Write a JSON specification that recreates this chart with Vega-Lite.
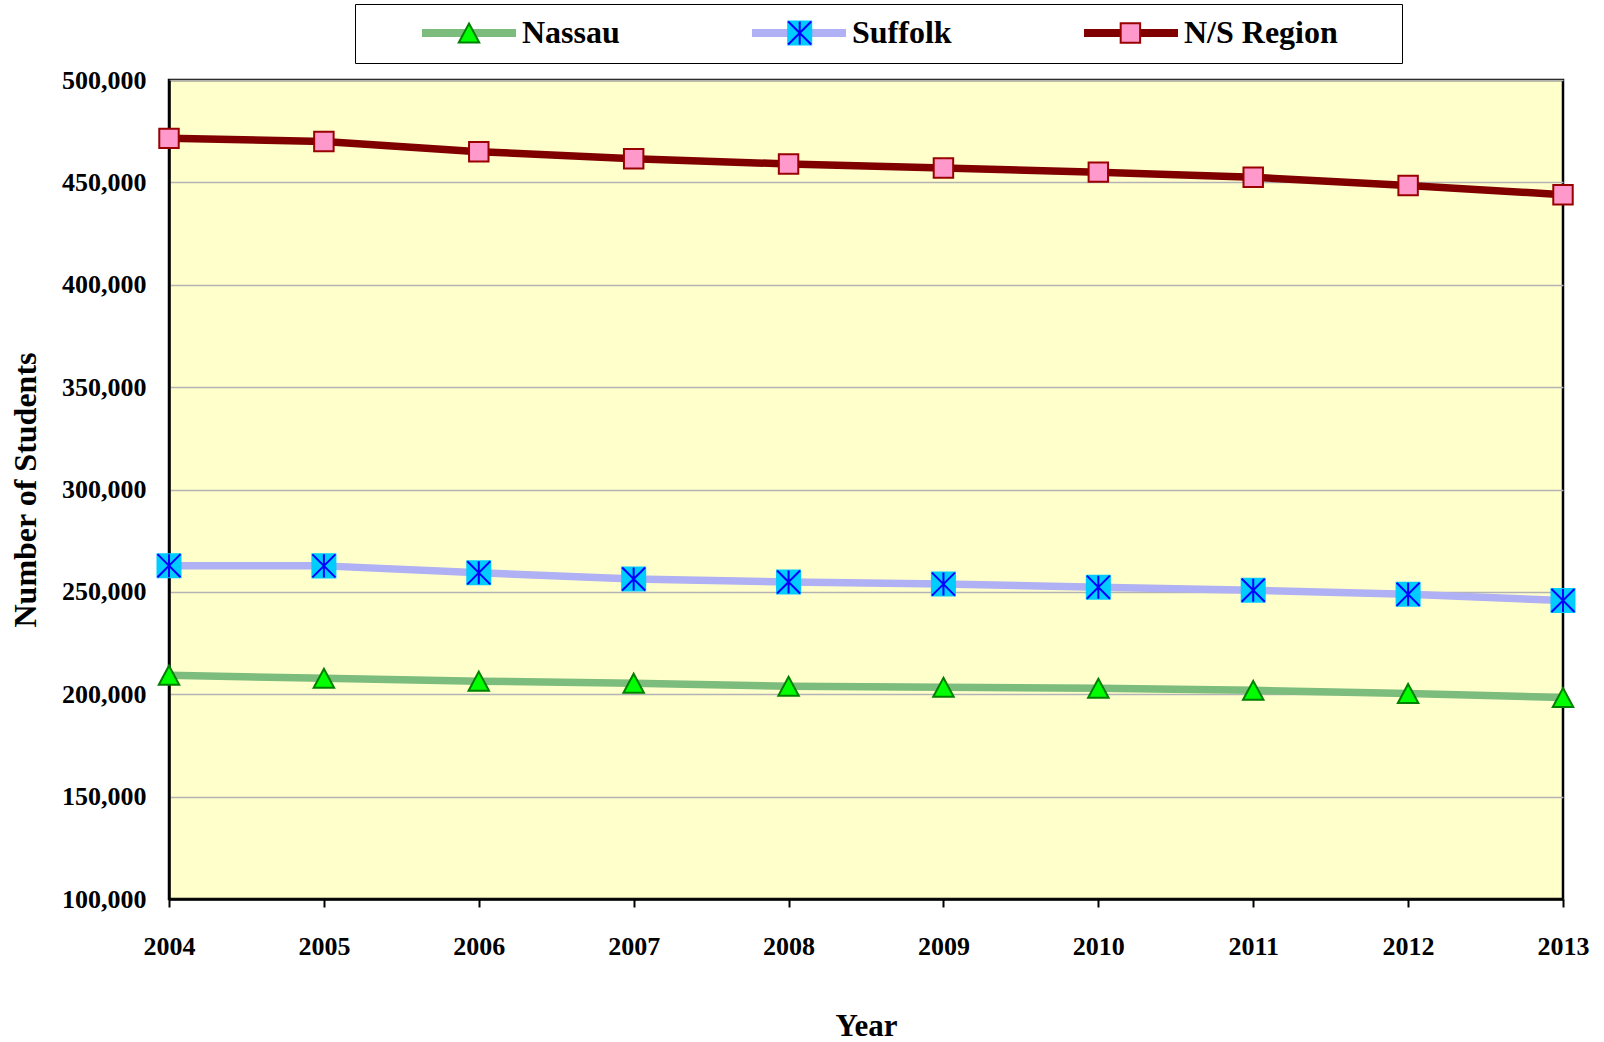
{
  "$schema": "https://vega.github.io/schema/vega-lite/v6.json",
  "width": 1394,
  "height": 819,
  "autosize": {"type": "none"},
  "padding": {"left": 169, "top": 80, "right": 41, "bottom": 143},
  "background": "white",
  "config": {
    "view": {"fill": "#ffffcc", "stroke": "black", "strokeWidth": 2.5},
    "font": "Liberation Serif"
  },
  "data": {
    "values": [
      {"year": 2004, "series": "Nassau", "value": 209300},
      {"year": 2005, "series": "Nassau", "value": 207800},
      {"year": 2006, "series": "Nassau", "value": 206400},
      {"year": 2007, "series": "Nassau", "value": 205400},
      {"year": 2008, "series": "Nassau", "value": 203900},
      {"year": 2009, "series": "Nassau", "value": 203400},
      {"year": 2010, "series": "Nassau", "value": 202900},
      {"year": 2011, "series": "Nassau", "value": 201900},
      {"year": 2012, "series": "Nassau", "value": 200400},
      {"year": 2013, "series": "Nassau", "value": 198400},
      {"year": 2004, "series": "Suffolk", "value": 262800},
      {"year": 2005, "series": "Suffolk", "value": 262700},
      {"year": 2006, "series": "Suffolk", "value": 259300},
      {"year": 2007, "series": "Suffolk", "value": 256300},
      {"year": 2008, "series": "Suffolk", "value": 254800},
      {"year": 2009, "series": "Suffolk", "value": 253800},
      {"year": 2010, "series": "Suffolk", "value": 252300},
      {"year": 2011, "series": "Suffolk", "value": 250800},
      {"year": 2012, "series": "Suffolk", "value": 248800},
      {"year": 2013, "series": "Suffolk", "value": 245800},
      {"year": 2004, "series": "N/S Region", "value": 471500},
      {"year": 2005, "series": "N/S Region", "value": 470000},
      {"year": 2006, "series": "N/S Region", "value": 465000},
      {"year": 2007, "series": "N/S Region", "value": 461500},
      {"year": 2008, "series": "N/S Region", "value": 459000},
      {"year": 2009, "series": "N/S Region", "value": 457000},
      {"year": 2010, "series": "N/S Region", "value": 455000},
      {"year": 2011, "series": "N/S Region", "value": 452500},
      {"year": 2012, "series": "N/S Region", "value": 448500},
      {"year": 2013, "series": "N/S Region", "value": 444000}
    ]
  },
  "encoding": {
    "x": {
      "field": "year", "type": "quantitative",
      "scale": {"domain": [2004, 2013], "nice": false, "zero": false},
      "axis": {
        "title": "Year", "values": [2004, 2005, 2006, 2007, 2008, 2009, 2010, 2011, 2012, 2013],
        "format": "d", "grid": false, "labelFlush": false, "labelOverlap": false,
        "labelFont": "Liberation Serif", "labelFontSize": 26, "labelFontWeight": "bold", "labelColor": "black",
        "labelPadding": 26, "tickSize": 8, "tickColor": "black", "tickWidth": 2,
        "domainColor": "black", "domainWidth": 2.5,
        "titleFont": "Liberation Serif", "titleFontSize": 31, "titleFontWeight": "bold", "titleColor": "black",
        "titlePadding": 52
      }
    },
    "y": {
      "field": "value", "type": "quantitative",
      "scale": {"domain": [100000, 500000], "nice": false, "zero": false},
      "axis": {
        "title": "Number of Students",
        "values": [100000, 150000, 200000, 250000, 300000, 350000, 400000, 450000, 500000],
        "format": ",d", "grid": true, "gridColor": "#b3b3b3", "gridWidth": 1.5, "ticks": false,
        "labelFont": "Liberation Serif", "labelFontSize": 26, "labelFontWeight": "bold", "labelColor": "black",
        "labelPadding": 23, "domainColor": "black", "domainWidth": 2.5,
        "titleFont": "Liberation Serif", "titleFontSize": 32, "titleFontWeight": "bold", "titleColor": "black",
        "titlePadding": 19
      }
    }
  },
  "resolve": {"scale": {"stroke": "independent", "fill": "independent", "shape": "independent"}},
  "layer": [
    {
      "mark": {"type": "line", "strokeWidth": 7.5, "strokeJoin": "round"},
      "encoding": {
        "stroke": {
          "field": "series", "type": "nominal", "sort": ["Nassau", "Suffolk", "N/S Region"],
          "scale": {"range": ["#7cbc7c", "#b0b0f4", "#800000"]},
          "legend": {
            "orient": "none", "legendX": 186, "legendY": -76, "direction": "horizontal", "columns": 3,
            "title": "_____", "titleOrient": "right", "titleFontSize": 18, "titlePadding": 5, "titleColor": "transparent",
            "symbolType": "M-0.315,0L1,0", "symbolSize": 20449, "symbolStrokeWidth": 8, "symbolFillColor": "transparent",
            "clipHeight": 30,
            "labelFont": "Liberation Serif", "labelFontSize": 32, "labelFontWeight": "bold", "labelColor": "black",
            "labelOffset": 2, "labelLimit": 400,
            "gridAlign": "none", "columnPadding": 79, "padding": 14,
            "strokeColor": "black", "fillColor": "white",
            "encode": {
              "legend": {"strokeWidth": {"value": 2.5}}
            }
          }
        }
      }
    },
    {
      "mark": {"type": "point", "filled": true, "size": 20449, "opacity": 1, "strokeWidth": 2},
      "encoding": {
        "fill": {
          "field": "series", "type": "nominal",
          "scale": {"domain": ["Nassau", "Suffolk", "N/S Region"], "range": ["#00ff00", "#00ccff", "#ff99cc"]},
          "legend": {
            "orient": "none", "legendX": 213.5, "legendY": -76, "direction": "horizontal", "columns": 3,
            "title": null,
            "symbolSize": 20449, "symbolStrokeWidth": 2, "symbolOpacity": 1,
            "clipHeight": 30,
            "labelFontSize": 32, "labelColor": "transparent", "labelExpr": "''",
            "labelOffset": 2,
            "gridAlign": "none", "columnPadding": 183.7, "padding": 14
          }
        },
        "shape": {
          "field": "series", "type": "nominal",
          "scale": {"domain": ["Nassau", "Suffolk", "N/S Region"], "range": [
            "M0,-0.133L0.143,0.133L-0.143,0.133Z",
            "M-0.161,-0.161L0.161,-0.161L0.161,0.161L-0.161,0.161Z",
            "M-0.136,-0.136L0.136,-0.136L0.136,0.136L-0.136,0.136Z"
          ]},
          "legend": {
            "orient": "none", "legendX": 213.5, "legendY": -76, "direction": "horizontal", "columns": 3,
            "title": null,
            "symbolSize": 20449, "symbolStrokeWidth": 2, "symbolOpacity": 1,
            "clipHeight": 30,
            "labelFontSize": 32, "labelColor": "transparent", "labelExpr": "''",
            "labelOffset": 2,
            "gridAlign": "none", "columnPadding": 183.7, "padding": 14
          }
        },
        "stroke": {
          "field": "series", "type": "nominal",
          "scale": {"domain": ["Nassau", "Suffolk", "N/S Region"], "range": ["#008000", "#00ccff", "#990000"]},
          "legend": {
            "orient": "none", "legendX": 213.5, "legendY": -76, "direction": "horizontal", "columns": 3,
            "title": null,
            "symbolSize": 20449, "symbolStrokeWidth": 2, "symbolOpacity": 1,
            "clipHeight": 30,
            "labelFontSize": 32, "labelColor": "transparent", "labelExpr": "''",
            "labelOffset": 2,
            "gridAlign": "none", "columnPadding": 183.7, "padding": 14
          }
        }
      }
    },
    {
      "transform": [{"filter": "datum.series === 'Suffolk'"}],
      "mark": {
        "type": "point", "filled": false, "size": 20449, "opacity": 1, "strokeWidth": 2,
        "shape": "M-0.161,-0.161L0.161,0.161M-0.161,0.161L0.161,-0.161M0,-0.161L0,0.161"
      },
      "encoding": {
        "stroke": {
          "field": "series", "type": "nominal",
          "scale": {"domain": ["Nassau", "Suffolk", "N/S Region"], "range": ["transparent", "#0000ff", "transparent"]},
          "legend": {
            "orient": "none", "legendX": 213.5, "legendY": -76, "direction": "horizontal", "columns": 3,
            "title": null,
            "symbolType": "M-0.161,-0.161L0.161,0.161M-0.161,0.161L0.161,-0.161M0,-0.161L0,0.161",
            "symbolSize": 20449, "symbolStrokeWidth": 2, "symbolOpacity": 1, "symbolFillColor": "transparent",
            "clipHeight": 30,
            "labelFontSize": 32, "labelColor": "transparent", "labelExpr": "''",
            "labelOffset": 2,
            "gridAlign": "none", "columnPadding": 183.7, "padding": 14
          }
        }
      }
    }
  ]
}
